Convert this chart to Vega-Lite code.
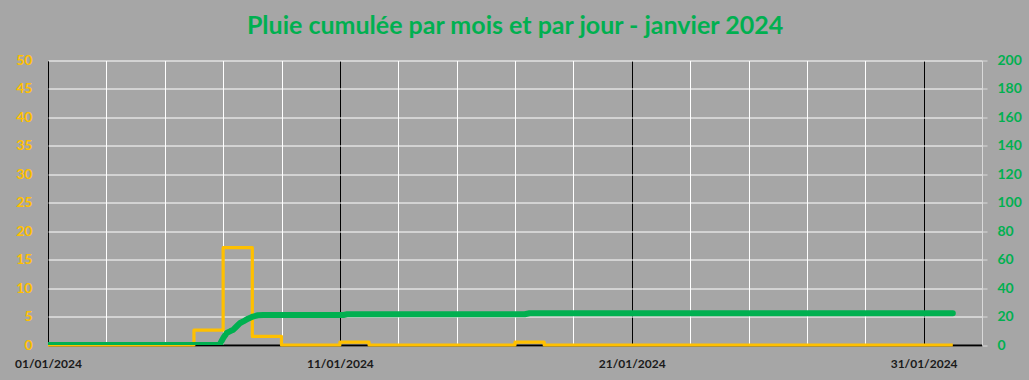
{
  "$schema": "https://vega.github.io/schema/vega-lite/v6.json",
  "autosize": "none",
  "width": 934,
  "height": 284.5,
  "padding": {"left": 48, "top": 60.5, "right": 47, "bottom": 35},
  "background": "#A6A6A6",
  "title": {
    "text": "Pluie cumulée par mois et par jour - janvier 2024",
    "color": "#00B050",
    "font": "Lato",
    "fontSize": 25,
    "fontWeight": "bold",
    "anchor": "middle",
    "frame": "group",
    "baseline": "middle",
    "offset": 3
  },
  "config": {
    "view": {"stroke": null},
    "axis": {"labelFont": "Lato", "labelFontWeight": "bold", "title": null}
  },
  "datasets": {
    "jour": [
      {"date": "2024-01-01T00:00:00Z", "pluie": 0},
      {"date": "2024-01-02T00:00:00Z", "pluie": 0},
      {"date": "2024-01-03T00:00:00Z", "pluie": 0},
      {"date": "2024-01-04T00:00:00Z", "pluie": 0},
      {"date": "2024-01-05T00:00:00Z", "pluie": 0},
      {"date": "2024-01-06T00:00:00Z", "pluie": 2.6},
      {"date": "2024-01-07T00:00:00Z", "pluie": 17.1},
      {"date": "2024-01-08T00:00:00Z", "pluie": 1.5},
      {"date": "2024-01-09T00:00:00Z", "pluie": 0},
      {"date": "2024-01-10T00:00:00Z", "pluie": 0},
      {"date": "2024-01-11T00:00:00Z", "pluie": 0.5},
      {"date": "2024-01-12T00:00:00Z", "pluie": 0},
      {"date": "2024-01-13T00:00:00Z", "pluie": 0},
      {"date": "2024-01-14T00:00:00Z", "pluie": 0},
      {"date": "2024-01-15T00:00:00Z", "pluie": 0},
      {"date": "2024-01-16T00:00:00Z", "pluie": 0},
      {"date": "2024-01-17T00:00:00Z", "pluie": 0.5},
      {"date": "2024-01-18T00:00:00Z", "pluie": 0},
      {"date": "2024-01-19T00:00:00Z", "pluie": 0},
      {"date": "2024-01-20T00:00:00Z", "pluie": 0},
      {"date": "2024-01-21T00:00:00Z", "pluie": 0},
      {"date": "2024-01-22T00:00:00Z", "pluie": 0},
      {"date": "2024-01-23T00:00:00Z", "pluie": 0},
      {"date": "2024-01-24T00:00:00Z", "pluie": 0},
      {"date": "2024-01-25T00:00:00Z", "pluie": 0},
      {"date": "2024-01-26T00:00:00Z", "pluie": 0},
      {"date": "2024-01-27T00:00:00Z", "pluie": 0},
      {"date": "2024-01-28T00:00:00Z", "pluie": 0},
      {"date": "2024-01-29T00:00:00Z", "pluie": 0},
      {"date": "2024-01-30T00:00:00Z", "pluie": 0},
      {"date": "2024-01-31T00:00:00Z", "pluie": 0},
      {"date": "2024-02-01T00:00:00Z", "pluie": 0}
    ],
    "cumul": [
      {"date": "2024-01-01T00:00:00Z", "cumul": 0},
      {"date": "2024-01-06T21:00:00Z", "cumul": 0},
      {"date": "2024-01-07T00:30:00Z", "cumul": 5.5},
      {"date": "2024-01-07T03:00:00Z", "cumul": 8.5},
      {"date": "2024-01-07T06:00:00Z", "cumul": 9.8},
      {"date": "2024-01-07T08:00:00Z", "cumul": 10.5},
      {"date": "2024-01-07T11:00:00Z", "cumul": 13.0},
      {"date": "2024-01-07T14:00:00Z", "cumul": 15.5},
      {"date": "2024-01-07T17:00:00Z", "cumul": 16.8},
      {"date": "2024-01-07T20:30:00Z", "cumul": 18.5},
      {"date": "2024-01-08T00:30:00Z", "cumul": 20.0},
      {"date": "2024-01-08T04:30:00Z", "cumul": 20.9},
      {"date": "2024-01-08T09:00:00Z", "cumul": 21.1},
      {"date": "2024-01-11T03:00:00Z", "cumul": 21.1},
      {"date": "2024-01-11T06:00:00Z", "cumul": 21.6},
      {"date": "2024-01-17T08:00:00Z", "cumul": 21.6},
      {"date": "2024-01-17T12:00:00Z", "cumul": 22.3},
      {"date": "2024-02-01T00:00:00Z", "cumul": 22.3}
    ]
  },
  "layer": [
    {
      "data": {"name": "jour"},
      "mark": {"type": "line", "interpolate": "step-after", "color": "#FFC000", "strokeWidth": 3.2, "strokeJoin": "round"},
      "encoding": {
        "x": {
          "field": "date",
          "type": "temporal",
          "scale": {
            "type": "utc",
            "domain": [
              {"year": 2024, "month": 1, "date": 1, "utc": true},
              {"year": 2024, "month": 2, "date": 2, "utc": true}
            ]
          },
          "axis": {
            "values": [
              {"year": 2024, "month": 1, "date": 1, "utc": true},
              {"year": 2024, "month": 1, "date": 3, "utc": true},
              {"year": 2024, "month": 1, "date": 5, "utc": true},
              {"year": 2024, "month": 1, "date": 7, "utc": true},
              {"year": 2024, "month": 1, "date": 9, "utc": true},
              {"year": 2024, "month": 1, "date": 11, "utc": true},
              {"year": 2024, "month": 1, "date": 13, "utc": true},
              {"year": 2024, "month": 1, "date": 15, "utc": true},
              {"year": 2024, "month": 1, "date": 17, "utc": true},
              {"year": 2024, "month": 1, "date": 19, "utc": true},
              {"year": 2024, "month": 1, "date": 21, "utc": true},
              {"year": 2024, "month": 1, "date": 23, "utc": true},
              {"year": 2024, "month": 1, "date": 25, "utc": true},
              {"year": 2024, "month": 1, "date": 27, "utc": true},
              {"year": 2024, "month": 1, "date": 29, "utc": true},
              {"year": 2024, "month": 1, "date": 31, "utc": true}
            ],
            "labelExpr": "indexof([1,11,21,31], utcdate(datum.value)) >= 0 ? utcFormat(datum.value, '%d/%m/%Y') : ''",
            "labelOverlap": false,
            "labelFlush": false,
            "labelBound": false,
            "labelColor": "#1A1A1A",
            "labelFontSize": 12,
            "labelPadding": 13,
            "ticks": false,
            "tickSize": 0,
            "domain": true,
            "domainColor": "#000000",
            "domainWidth": 2,
            "grid": true,
            "gridWidth": 1,
            "gridColor": {
              "condition": {"test": "indexof([1,11,21,31], utcdate(datum.value)) >= 0", "value": "#000000"},
              "value": "#FFFFFF"
            }
          }
        },
        "y": {
          "field": "pluie",
          "type": "quantitative",
          "scale": {"domain": [0, 50], "nice": false},
          "axis": {
            "orient": "left",
            "values": [0, 5, 10, 15, 20, 25, 30, 35, 40, 45, 50],
            "labelColor": "#FFC000",
            "labelFontSize": 14,
            "labelPadding": 16,
            "ticks": false,
            "tickSize": 0,
            "domain": false,
            "grid": true,
            "gridColor": "#FFFFFF",
            "gridWidth": 1
          }
        }
      }
    },
    {
      "data": {"name": "cumul"},
      "mark": {"type": "line", "color": "#00B050", "strokeWidth": 6, "strokeCap": "round", "strokeJoin": "round", "clip": true},
      "encoding": {
        "x": {
          "field": "date",
          "type": "temporal",
          "scale": {
            "type": "utc",
            "domain": [
              {"year": 2024, "month": 1, "date": 1, "utc": true},
              {"year": 2024, "month": 2, "date": 2, "utc": true}
            ]
          }
        },
        "y": {
          "field": "cumul",
          "type": "quantitative",
          "scale": {"domain": [0, 200], "nice": false},
          "axis": {
            "orient": "right",
            "values": [0, 20, 40, 60, 80, 100, 120, 140, 160, 180, 200],
            "labelColor": "#00B050",
            "labelFontSize": 14,
            "labelPadding": 10,
            "ticks": true,
            "tickSize": 5,
            "tickColor": "#D9D9D9",
            "domain": true,
            "domainColor": "#D9D9D9",
            "grid": false
          }
        }
      }
    }
  ],
  "resolve": {"scale": {"y": "independent"}}
}
